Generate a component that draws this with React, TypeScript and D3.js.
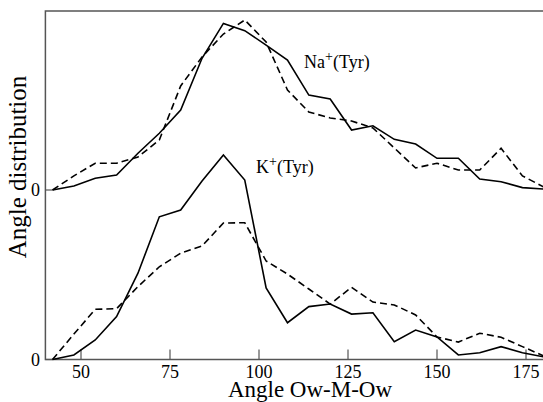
import React from "react";
import * as d3 from "d3";

// Bin centres of the Ow-M-Ow angle histogram (degrees)
const angles = [42, 48, 54, 60, 66, 72, 78, 84, 90, 96, 102, 108, 114, 120, 126, 132, 138, 144, 150, 156, 162, 168, 174, 180];

// Na+(Tyr): solid and dashed distributions (relative units)
const naSolid = [0, 2.4, 6.9, 8.8, 21.7, 33.5, 47.2, 77.7, 98.3, 94.0, 85.5, 76.7, 56.0, 53.7, 35.4, 37.9, 29.9, 27.1, 18.7, 18.7, 6.5, 4.9, 1.4, 0.6];
const naDashed = [0, 8.3, 15.8, 15.8, 19.5, 29.5, 61.4, 78.5, 92.0, 100.3, 87.3, 59.0, 46.0, 42.5, 40.7, 36.6, 24.8, 13.0, 15.8, 11.8, 11.8, 24.6, 8.3, 1.8];

// K+(Tyr): solid and dashed distributions (relative units)
const kSolid = [0, 2.7, 11.5, 25.3, 50.9, 84.2, 88.2, 105.3, 120.6, 105.9, 42.2, 21.7, 31.2, 32.7, 26.8, 27.6, 10.5, 17.4, 13.3, 2.7, 4.0, 7.6, 4.0, 1.5];
const kDashed = [0, 15.0, 29.6, 30.0, 43.0, 54.7, 62.7, 67.0, 80.5, 80.7, 58.1, 50.4, 41.6, 32.7, 42.6, 33.9, 32.2, 26.3, 13.3, 10.3, 15.5, 13.1, 7.6, 2.1];

const xTicks = [50, 75, 100, 125, 150, 175];
// Na+ curves are stacked above the K+ curves by this offset
const naOffset = 100;

const W = 543;
const H = 402;
const FONT = "'Liberation Serif', 'DejaVu Serif', serif";
const FRAME = "#555";

export default function App() {
  const x = d3.scaleLinear().domain([40, 180]).range([45.4, 543.8]);
  const y = d3.scaleLinear().domain([0, 205.6]).range([359.5, 11]);

  const line = (vals: number[], offset: number) =>
    d3
      .line<number>()
      .x((_, i) => x(angles[i]))
      .y((v) => y(v + offset))(vals) as string;

  const x0 = x(40);
  const x1 = x(180);
  const yBase = y(0);
  const yTop = y(205.6);

  return (
    <svg
      width={W}
      height={H}
      style={{ position: "absolute", left: 0, top: 0, background: "#fff" }}
      fontFamily={FONT}
    >
      <rect x={0} y={0} width={W} height={H} fill="#fff" />
      {/* frame */}
      <rect
        x={x0}
        y={yTop}
        width={x1 - x0}
        height={yBase - yTop}
        fill="none"
        stroke={FRAME}
        strokeWidth={1.5}
      />
      {/* x ticks */}
      {xTicks.map((t) => (
        <g key={t}>
          <line x1={x(t)} x2={x(t)} y1={yBase} y2={yBase - 10} stroke={FRAME} strokeWidth={1.2} />
          <text x={x(t)} y={yBase + 18} textAnchor="middle" fontSize={18} fill="#000">
            {t}
          </text>
        </g>
      ))}
      {/* zero ticks */}
      {[0, naOffset].map((v) => (
        <g key={v}>
          <line x1={x0} x2={x0 + 7} y1={y(v)} y2={y(v)} stroke={FRAME} strokeWidth={1.2} />
          <text x={40} y={y(v)} dy="0.35em" textAnchor="end" fontSize={18} fill="#000">
            0
          </text>
        </g>
      ))}

      {/* curves */}
      <path d={line(naSolid, naOffset)} fill="none" stroke="#000" strokeWidth={1.6} />
      <path d={line(naDashed, naOffset)} fill="none" stroke="#000" strokeWidth={1.6} strokeDasharray="7,4" />
      <path d={line(kSolid, 0)} fill="none" stroke="#000" strokeWidth={1.6} />
      <path d={line(kDashed, 0)} fill="none" stroke="#000" strokeWidth={1.6} strokeDasharray="7,4" />

      {/* series labels */}
      <text x={304} y={68} fontSize={18} fill="#000">
        Na<tspan fontSize={14} dy={-7}>+</tspan>
        <tspan dy={7}>(Tyr)</tspan>
      </text>
      <text x={256} y={173} fontSize={18} fill="#000">
        K<tspan fontSize={14} dy={-7}>+</tspan>
        <tspan dy={7}>(Tyr)</tspan>
      </text>

      {/* axis titles */}
      <text x={310} y={397} textAnchor="middle" fontSize={23} fill="#000">
        Angle Ow-M-Ow
      </text>
      <text
        transform={`translate(26,167) rotate(-90)`}
        textAnchor="middle"
        fontSize={25}
        fill="#000"
      >
        Angle distribution
      </text>
    </svg>
  );
}
